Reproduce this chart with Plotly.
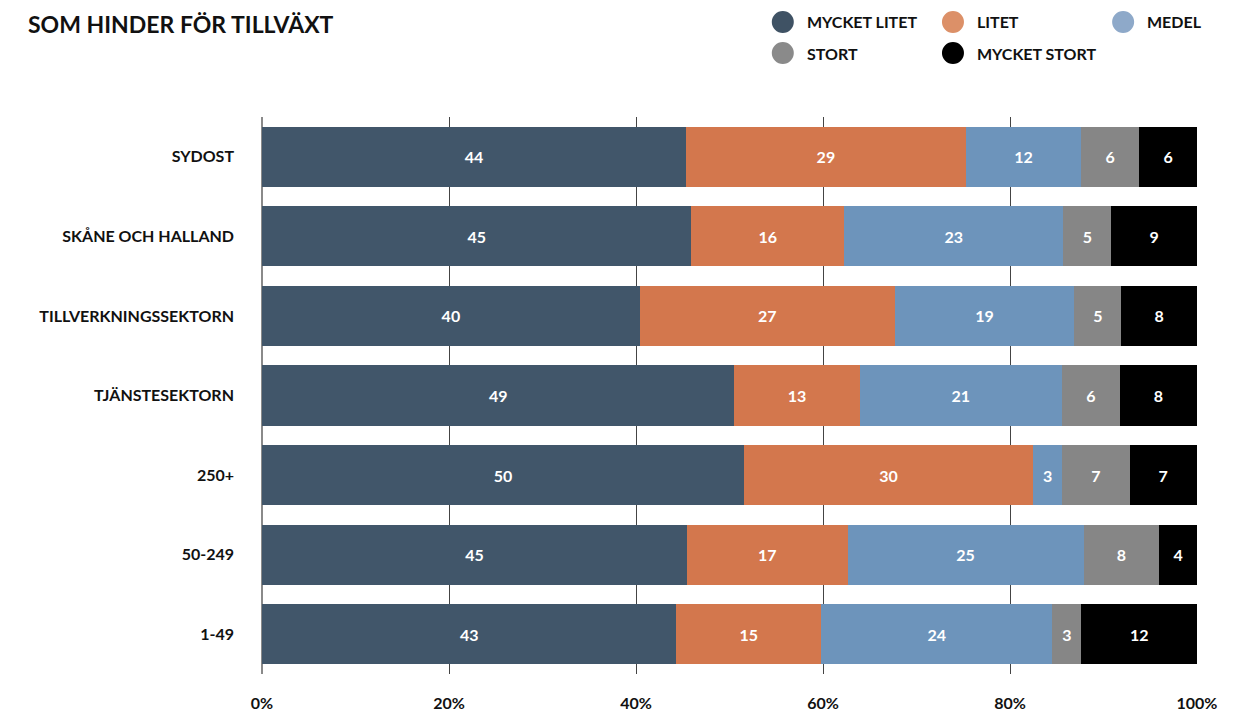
import plotly.graph_objects as go

categories = ["SYDOST", "SKÅNE OCH HALLAND", "TILLVERKNINGSSEKTORN", "TJÄNSTESEKTORN", "250+", "50-249", "1-49"]
series_names = ["MYCKET LITET", "LITET", "MEDEL", "STORT", "MYCKET STORT"]
mycket_litet = [44, 45, 40, 49, 50, 45, 43]
litet = [29, 16, 27, 13, 30, 17, 15]
medel = [12, 23, 19, 21, 3, 25, 24]
stort = [6, 5, 5, 6, 7, 8, 3]
mycket_stort = [6, 9, 8, 8, 7, 4, 12]
tick_vals = [0, 20, 40, 60, 80, 100]
tick_text = ["0%", "20%", "40%", "60%", "80%", "100%"]
title_text = "SOM HINDER FÖR TILLVÄXT"

series_values = [mycket_litet, litet, medel, stort, mycket_stort]
bar_colors = ["#41566a", "#d3774d", "#6d94bb", "#868686", "#000000"]
legend_colors = ["#3f5264", "#dc9068", "#8ea9c9", "#8a8a8a", "#000000"]

FONT = "Lato"
FS = 16

fig = go.Figure()
for name, vals, col in zip(series_names, series_values, bar_colors):
    fig.add_trace(go.Bar(
        y=categories, x=vals, name=name, orientation="h",
        marker=dict(color=col, line=dict(width=0)),
        text=[str(v) for v in vals], textposition="inside",
        insidetextanchor="middle", textangle=0,
        textfont=dict(color="white", size=FS, family=FONT, weight="bold"),
        showlegend=False, hoverinfo="skip",
    ))

fig.update_layout(
    barmode="stack", barnorm="percent", bargap=0.245,
    width=1236, height=715,
    margin=dict(l=254, r=47, t=109, b=49),
    paper_bgcolor="white", plot_bgcolor="white",
    uniformtext=dict(minsize=FS, mode="show"),
    font=dict(family=FONT, color="#111111"),
    xaxis=dict(range=[0, 100], tickvals=tick_vals, ticktext=tick_text,
               showgrid=True, gridcolor="#444444", gridwidth=1,
               zeroline=True, zerolinecolor="#8a8a8a", zerolinewidth=2,
               tickfont=dict(size=FS, family=FONT, weight="bold", color="#111111"),
               ticklabelstandoff=18, fixedrange=True),
    yaxis=dict(categoryorder="array", categoryarray=categories, autorange="reversed",
               showgrid=False, zeroline=False,
               tickfont=dict(size=FS, family=FONT, weight="bold", color="#111111"),
               ticklabelstandoff=27),
)

# Title at the very top
fig.add_annotation(text=title_text, xref="paper", yref="paper",
                   x=-0.2524, y=1 + 109 / 557, xanchor="left", yanchor="top",
                   showarrow=False,
                   font=dict(size=23, family=FONT, weight="bold", color="#111111"))

# Manual legend with round markers
leg_x = [0.557, 0.739, 0.921, 0.557, 0.739]
leg_y = [1.1706, 1.1706, 1.1706, 1.1149, 1.1149]
for name, col, lx, ly in zip(series_names, legend_colors, leg_x, leg_y):
    fig.add_shape(type="circle", xref="paper", yref="paper",
                  xsizemode="pixel", ysizemode="pixel",
                  xanchor=lx, yanchor=ly, x0=-11, x1=11, y0=-11, y1=11,
                  fillcolor=col, line=dict(width=0))
    fig.add_annotation(text=name, xref="paper", yref="paper",
                       x=lx + 22 / 935, y=ly, xanchor="left", yanchor="middle",
                       showarrow=False,
                       font=dict(size=FS, family=FONT, weight="bold", color="#111111"))

fig.write_html("out.html")
